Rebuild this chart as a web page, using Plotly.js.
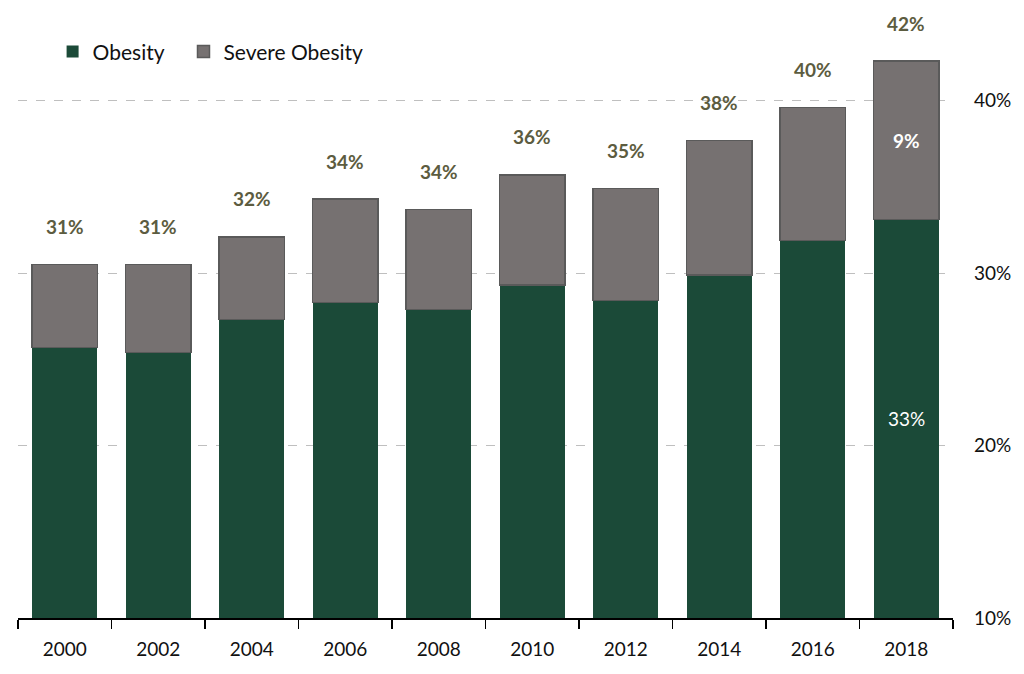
<!DOCTYPE html>
<html>
<head>
<meta charset="utf-8">
<script src="https://cdn.plot.ly/plotly-3.0.1.min.js"></script>
<style>html,body{margin:0;padding:0;background:#fff;}#chart{width:1024px;height:674px;}</style>
</head>
<body>
<div id="chart"></div>
<script>
const years = ["2000","2002","2004","2006","2008","2010","2012","2014","2016","2018"];
const obesity = [25.7, 25.4, 27.3, 28.3, 27.9, 29.3, 28.4, 29.9, 31.9, 33.1];
const severe = [4.8, 5.1, 4.8, 6.0, 5.8, 6.4, 6.5, 7.8, 7.7, 9.2];
const totalLabels = ["31%","31%","32%","34%","34%","36%","35%","38%","40%","42%"];
const obesityInside = ["","","","","","","","","","33%"];
const severeInside = ["","","","","","","","","","9%"];
const yTicks = [10, 20, 30, 40];
const yTickText = ["10%","20%","30%","40%"];
const yMin = 10, yMax = 43;

const FONT = "Lato, 'Open Sans', sans-serif";
const totals = obesity.map((v, i) => v + severe[i]);

const traces = [
  {
    type: "bar", name: "Obesity", x: years, y: obesity, legend: "legend",
    marker: {color: "#1b4a38", line: {width: 0}},
    hoverinfo: "none"
  },
  {
    type: "bar", name: "Severe Obesity", x: years, y: severe, legend: "legend2",
    marker: {color: "#767171", line: {color: "#5a5a5a", width: 1.5}},
    hoverinfo: "none"
  }
];

const annotations = [];
years.forEach((yr, i) => {
  annotations.push({
    x: i, y: totals[i], xref: "x", yref: "y",
    text: "<b>" + totalLabels[i] + "</b>", showarrow: false,
    yshift: 38, font: {size: 19, color: "#5c5c40", family: FONT}
  });
  if (obesityInside[i]) annotations.push({
    x: i, y: (yMin + obesity[i]) / 2, xref: "x", yref: "y",
    text: obesityInside[i], showarrow: false,
    font: {size: 19, color: "#ffffff", family: FONT}
  });
  if (severeInside[i]) annotations.push({
    x: i, y: obesity[i] + severe[i] / 2, xref: "x", yref: "y",
    text: "<b>" + severeInside[i] + "</b>", showarrow: false,
    font: {size: 19, color: "#ffffff", family: FONT}
  });
});

const legendBase = {orientation: "h", xanchor: "left", y: 0.995, yanchor: "middle",
  font: {size: 21, family: FONT, color: "#111"}, itemwidth: 30, bgcolor: "rgba(0,0,0,0)"};

const layout = {
  width: 1024, height: 674,
  margin: {l: 18, r: 71, t: 49, b: 56},
  paper_bgcolor: "#ffffff", plot_bgcolor: "#ffffff",
  barmode: "stack", bargap: 0.3,
  showlegend: true,
  legend: Object.assign({}, legendBase, {x: 0.037}),
  legend2: Object.assign({}, legendBase, {x: 0.177}),
  xaxis: {
    type: "category", range: [-0.5, 9.5], autorange: false,
    showline: true, linecolor: "#000", linewidth: 1.5,
    ticks: "outside", tickson: "boundaries", ticklen: 9, tickcolor: "#000", tickwidth: 1.5,
    ticklabelstandoff: 14,
    tickfont: {size: 19, family: FONT, color: "#111"}, showgrid: false, fixedrange: true
  },
  yaxis: {
    side: "right", range: [yMin, yMax], autorange: false, tickvals: yTicks, ticktext: yTickText,
    showgrid: true, gridcolor: "#bfbfbf", griddash: "dash", gridwidth: 1.2,
    zeroline: false, showline: false, ticks: "",
    ticklabelstandoff: 20,
    tickfont: {size: 19, family: FONT, color: "#111"}, fixedrange: true
  },
  annotations: annotations,
  font: {family: FONT}
};

Plotly.newPlot("chart", traces, layout, {displayModeBar: false, staticPlot: true});
</script>
</body>
</html>
